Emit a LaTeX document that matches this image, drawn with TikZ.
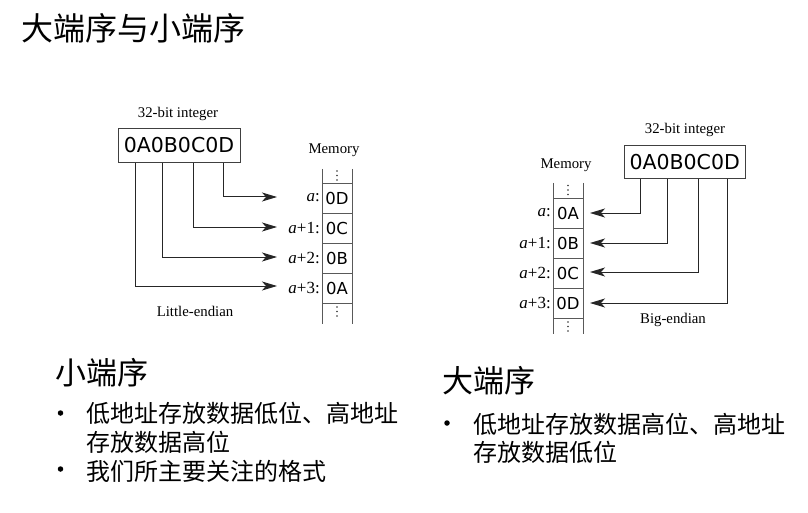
\documentclass[tikz,border=0pt]{standalone}
\usepackage{fontspec}
\setmainfont{Liberation Serif}
\newfontfamily\dvs{DejaVu Sans}
\newfontfamily\cjk{Noto Sans CJK SC}
\usetikzlibrary{arrows.meta}
\begin{document}
\begin{tikzpicture}[x=1pt,y=-1pt,
  lbl/.style={font=\fontsize{14.8}{16}\selectfont, inner sep=0pt},
  intbox/.style={draw=black!75, line width=1pt, font=\dvs\fontsize{20.5}{22}\selectfont, minimum width=122pt, inner sep=0pt},
  cellv/.style={font=\dvs\fontsize{16.5}{17}\selectfont, inner sep=0pt},
  addr/.style={font=\fontsize{17}{18}\selectfont, anchor=east, inner sep=0pt},
  conn/.style={draw=black!85, line width=1pt},
  arr/.style={conn, -{Stealth[length=15pt,width=9pt,inset=4pt]}},
  memline/.style={draw=black!65, line width=0.8pt},
  dotm/.style={fill=black!80, circle, inner sep=0pt, minimum size=1.7pt},
  head/.style={anchor=west, font=\cjk\fontsize{31}{33}\selectfont, inner sep=0pt},
  btext/.style={anchor=west, font=\cjk\fontsize{24}{28}\selectfont, inner sep=0pt},
  bullet/.style={fill=black, circle, inner sep=0pt, minimum size=5.5pt},
]
\useasboundingbox (0,0) rectangle (808,513);
\fill[white] (0,0) rectangle (808,513);

% title
\node[anchor=west, font=\cjk\fontsize{32}{34}\selectfont, inner sep=0pt] (title) at (21,28) {大端序与小端序};

% ---------------- Little-endian ----------------
\node[lbl] (lint) at (178,114) {32-bit integer};
\node[intbox, minimum height=34.4pt] (L) at (179,145.5) {0A0B0C0D};
\node[lbl] (lmem) at (334,150) {Memory};
\node[lbl] (lname) at (195,311) {Little-endian};

\draw[memline] (322,169) -- (322,324);
\draw[memline] (352,169) -- (352,324);
\foreach \yy in {183,213,243,273,303} \draw[memline] (322,\yy) -- (352,\yy);
\foreach \yy in {171,175.5,180, 307,311.5,316} \node[dotm] at (337,\yy) {};

\node[cellv] (l0) at (337,198) {0D};
\node[cellv] (l1) at (337,228) {0C};
\node[cellv] (l2) at (337,258) {0B};
\node[cellv] (l3) at (337,288) {0A};
\node[addr] (la0) at (320,198) {\textit{a}:};
\node[addr] (la1) at (320,228) {\textit{a}+1:};
\node[addr] (la2) at (320,258) {\textit{a}+2:};
\node[addr] (la3) at (320,288) {\textit{a}+3:};

\coordinate (lt0) at (277,197);
\coordinate (lt1) at (277,227);
\coordinate (lt2) at (277,257);
\coordinate (lt3) at (277,286);
\draw[arr] ([xshift=44.3pt]L.south) |- (lt0);
\draw[arr] ([xshift=14.3pt]L.south) |- (lt1);
\draw[arr] ([xshift=-16.3pt]L.south) |- (lt2);
\draw[arr] ([xshift=-44pt]L.south) |- (lt3);

% ---------------- Big-endian ----------------
\node[lbl] (rint) at (685,130) {32-bit integer};
\node[intbox, minimum height=32.6pt, minimum width=121pt] (R) at (684.7,162) {0A0B0C0D};
\node[lbl] (rmem) at (566,165) {Memory};
\node[lbl] (rname) at (673,320) {Big-endian};

\draw[memline] (553,183) -- (553,334);
\draw[memline] (583,183) -- (583,334);
\foreach \yy in {198,228,258,288,318} \draw[memline] (553,\yy) -- (583,\yy);
\foreach \yy in {185.5,190,194.5, 322,326.5,331} \node[dotm] at (568,\yy) {};

\node[cellv] (r0) at (568,213) {0A};
\node[cellv] (r1) at (568,243) {0B};
\node[cellv] (r2) at (568,273) {0C};
\node[cellv] (r3) at (568,303) {0D};
\node[addr] (ra0) at (551,213) {\textit{a}:};
\node[addr] (ra1) at (551,243) {\textit{a}+1:};
\node[addr] (ra2) at (551,273) {\textit{a}+2:};
\node[addr] (ra3) at (551,303) {\textit{a}+3:};

\coordinate (rt0) at (590,213);
\coordinate (rt1) at (590,243);
\coordinate (rt2) at (590,272);
\coordinate (rt3) at (590,303);
\draw[arr] ([xshift=-44.7pt]R.south) |- (rt0);
\draw[arr] ([xshift=-17pt]R.south) |- (rt1);
\draw[arr] ([xshift=13.6pt]R.south) |- (rt2);
\draw[arr] ([xshift=43pt]R.south) |- (rt3);

% ---------------- text blocks ----------------
\node[head] (h1) at (55,373) {小端序};
\node[bullet] (b1) at (60.5,413) {};
\node[btext] (t1) at (86,413) {低地址存放数据低位、高地址};
\node[btext] (t2) at (86,442) {存放数据高位};
\node[bullet] (b2) at (60.5,469) {};
\node[btext] (t3) at (86,471) {我们所主要关注的格式};

\node[head] (h2) at (442,381) {大端序};
\node[bullet] (b3) at (447,423) {};
\node[btext] (t4) at (473,424) {低地址存放数据高位、高地址};
\node[btext] (t5) at (473,452) {存放数据低位};
\end{tikzpicture}
\end{document}
